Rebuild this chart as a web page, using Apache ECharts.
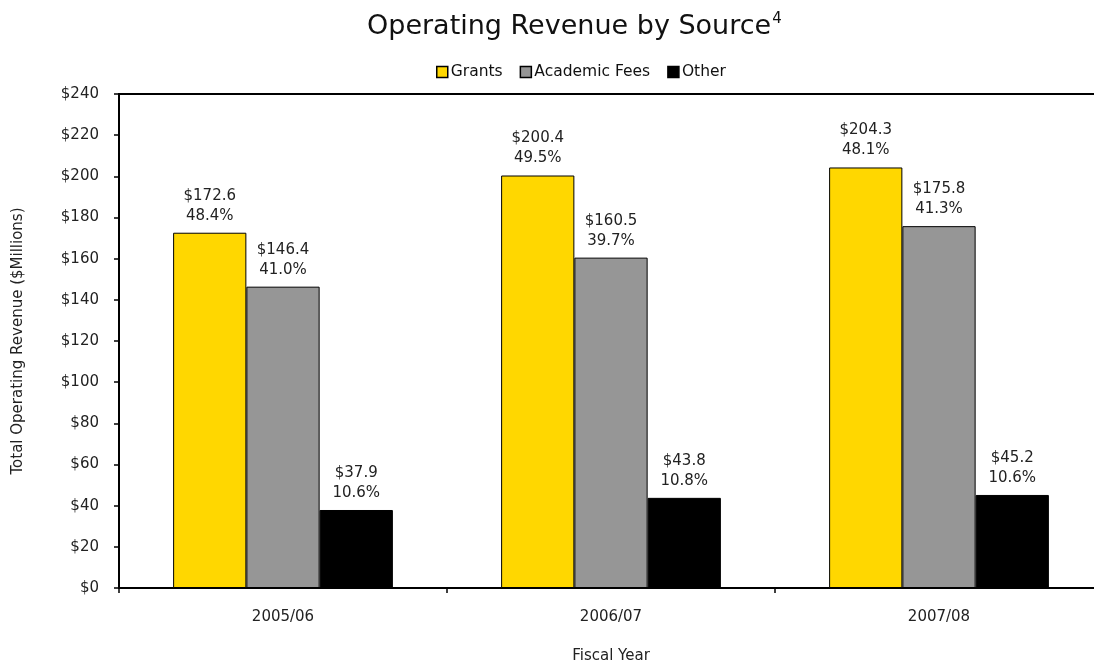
<!DOCTYPE html>
<html>
<head>
<meta charset="utf-8">
<script src="https://cdn.jsdelivr.net/npm/echarts@6/dist/echarts.min.js"></script>
<style>
  html, body { margin: 0; padding: 0; background: #fff; }
  #chart { width: 1094px; height: 664px; }
</style>
</head>
<body>
<div id="chart"></div>
<script>
// Fiscal years and revenue by source ($ millions)
const years = ['2005/06', '2006/07', '2007/08'];
const grants = [172.6, 200.4, 204.3];
const academicFees = [146.4, 160.5, 175.8];
const other = [37.9, 43.8, 45.2];
// Share of total operating revenue (%)
const grantsPct = ['48.4%', '49.5%', '48.1%'];
const academicPct = ['41.0%', '39.7%', '41.3%'];
const otherPct = ['10.6%', '10.8%', '10.6%'];
const yTicks = [0, 20, 40, 60, 80, 100, 120, 140, 160, 180, 200, 220, 240];

const FONT = 'DejaVu Sans';

function barSeries(name, values, pcts, color) {
  return {
    name: name,
    type: 'bar',
    data: values,
    barGap: '0%',
    barCategoryGap: '33%',
    itemStyle: { color: color, borderColor: '#000', borderWidth: 1 },
    label: {
      show: true,
      position: 'top',
      distance: 7,
      fontFamily: FONT,
      fontSize: 15,
      lineHeight: 20,
      color: '#222',
      formatter: p => '$' + p.value.toFixed(1) + '\n' + pcts[p.dataIndex]
    }
  };
}

const chart = echarts.init(document.getElementById('chart'), null, { renderer: 'canvas' });
chart.setOption({
  animation: false,
  backgroundColor: '#fff',
  title: {
    text: 'Operating Revenue by Source{sup|4}',
    left: 362,
    top: 7,
    textStyle: {
      fontFamily: FONT,
      fontSize: 27,
      fontWeight: 'normal',
      color: '#111',
      rich: {
        sup: { fontFamily: FONT, fontSize: 15, color: '#111', verticalAlign: 'top', padding: [0, 0, 15, 1] }
      }
    }
  },
  legend: {
    top: 59,
    left: 431,
    itemWidth: 11,
    itemHeight: 11,
    itemGap: 17,
    icon: 'rect',
    textStyle: { fontFamily: FONT, fontSize: 15.5, color: '#111', padding: [0, 0, 0, -2] },
    itemStyle: { borderColor: '#000', borderWidth: 1.5 }
  },
  grid: {
    left: 119,
    top: 94,
    width: 984,
    height: 494,
    show: true,
    borderColor: '#000',
    borderWidth: 2,
    containLabel: false,
    outerBoundsMode: 'none'
  },
  xAxis: {
    type: 'category',
    data: years,
    name: 'Fiscal Year',
    nameLocation: 'middle',
    nameGap: 61,
    nameTextStyle: { fontFamily: FONT, fontSize: 15, color: '#222' },
    axisLine: { lineStyle: { color: '#000', width: 2 } },
    axisTick: { show: true, length: 5, lineStyle: { color: '#000', width: 1.5 } },
    axisLabel: { fontFamily: FONT, fontSize: 15, color: '#222', margin: 22 }
  },
  yAxis: {
    type: 'value',
    min: yTicks[0],
    max: yTicks[yTicks.length - 1],
    interval: yTicks[1] - yTicks[0],
    name: 'Total Operating Revenue ($Millions)',
    nameLocation: 'middle',
    nameGap: 93,
    nameTextStyle: { fontFamily: FONT, fontSize: 15, color: '#222' },
    axisLine: { show: true, lineStyle: { color: '#000', width: 2 } },
    axisTick: { show: true, length: 5, lineStyle: { color: '#000', width: 1.5 } },
    splitLine: { show: false },
    axisLabel: {
      fontFamily: FONT, fontSize: 15, color: '#222', margin: 20,
      formatter: v => '$' + v
    }
  },
  series: [
    barSeries('Grants', grants, grantsPct, '#FFD700'),
    barSeries('Academic Fees', academicFees, academicPct, '#969696'),
    barSeries('Other', other, otherPct, '#000000')
  ]
});
</script>
</body>
</html>
